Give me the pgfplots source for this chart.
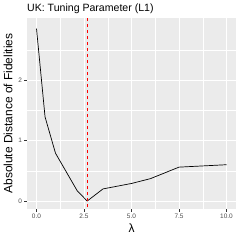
\documentclass[border=0pt]{standalone}
\usepackage{pgfplots}
\pgfplotsset{compat=1.18}
\usepackage{fontspec}
\setmainfont{Liberation Sans}
\definecolor{panelbg}{HTML}{EBEBEB}
\definecolor{tickgrey}{HTML}{4D4D4D}
\definecolor{tickmark}{HTML}{333333}
\definecolor{vred}{HTML}{E41A1C}
\begin{document}
\begin{tikzpicture}[x=1bp,y=1bp]
\path[use as bounding box] (0,0) rectangle (240,240);
\begin{axis}[
  at={(27bp,31bp)}, anchor=south west,
  scale only axis, width=209bp, height=191bp,
  xmin=-0.5, xmax=10.5, ymin=-0.132, ymax=3.025,
  axis background/.style={fill=panelbg},
  axis line style={draw=none},
  xtick={0,2.5,5,7.5,10},
  xticklabels={0.0,2.5,5.0,7.5,10.0},
  ytick={0,1,2},
  minor xtick={1.25,3.75,6.25,8.75},
  minor ytick={0.5,1.5,2.5},
  xtick pos=bottom, ytick pos=left,
  grid=both,
  major grid style={white, line width=0.9bp},
  minor grid style={white, line width=0.45bp},
  tick align=outside,
  major tick length=2.5bp,
  minor tick length=0bp,
  tick style={tickmark, line width=0.45bp},
  ticklabel style={font=\fontsize{6.5}{7}\selectfont, text=tickgrey},
  /pgf/number format/assume math mode=true,
  xticklabel style={yshift=1bp},
  yticklabel style={xshift=1bp},
  every axis title shift=0pt,
  title={UK: Tuning Parameter (L1)},
  title style={font=\fontsize{10.6}{12}\selectfont, anchor=base west, at={(rel axis cs:0,1)}, yshift=6bp, inner sep=0pt},
  xlabel={λ},
  xlabel style={font=\fontsize{12}{13}\selectfont, yshift=2bp},
  ylabel={Absolute Distance of Fidelities},
  ylabel style={font=\fontsize{12}{13}\selectfont, yshift=-1bp},
  clip=true,
]
\addplot[black, line width=0.7bp] coordinates {
(0,2.85) (0.45,1.39) (1,0.79) (2.15,0.165) (2.67,0.0) (3.5,0.2) (5,0.29) (6,0.37) (7.5,0.56) (10,0.6)
};
\addplot[color=red, line width=0.7bp, dash pattern=on 3.5bp off 2.5bp] coordinates {(2.67,-0.2) (2.67,3.1)};
\end{axis}
\end{tikzpicture}
\end{document}
